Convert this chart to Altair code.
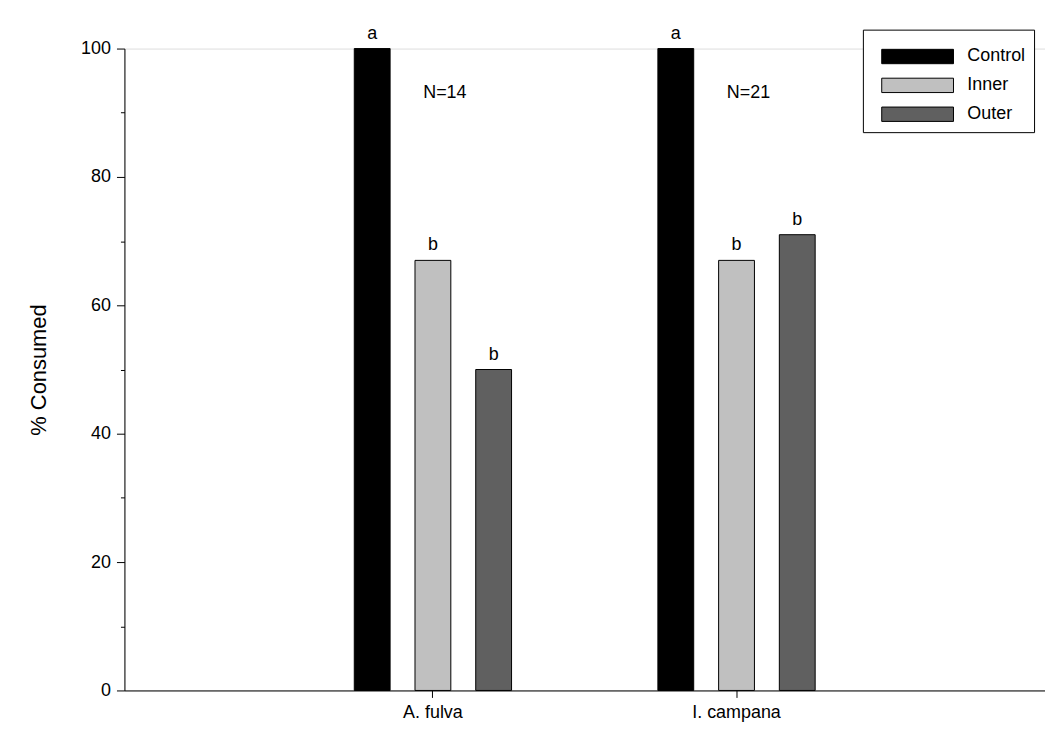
import altair as alt
import pandas as pd

species = ["A. fulva", "I. campana"]
treatments = ["Control", "Inner", "Outer"]
consumed = [[100, 67, 50], [100, 67, 71]]
letters = [["a", "b", "b"], ["a", "b", "b"]]
n_labels = ["N=14", "N=21"]

rows = []
for i, sp in enumerate(species):
    for j, tr in enumerate(treatments):
        rows.append({"Species": sp, "Treatment": tr, "Consumed": consumed[i][j], "Letter": letters[i][j]})
df = pd.DataFrame(rows)
ndf = pd.DataFrame({"Species": species, "Treatment": ["Inner", "Inner"], "N": n_labels, "y": [93, 93]})

font = "Liberation Sans"
xscale = alt.Scale(domain=species, paddingInner=0, paddingOuter=0.516)
xaxis = alt.Axis(title=None, labelAngle=0, labelFontSize=18, labelFont=font, tickSize=7,
                 labelColor="black", tickColor="black", domainColor="black", labelPadding=6, grid=False)
# blank slots either side of each group to set bar spacing
xo = alt.XOffset("Treatment:N", scale=alt.Scale(domain=["_l"] + treatments + ["_r"],
                                                paddingInner=0.41, paddingOuter=0.205))
yscale = alt.Scale(domain=[0, 100], nice=False)
yaxis = alt.Axis(title="% Consumed", titleFontSize=22, titleFont=font, titleFontWeight="normal",
                 titleColor="black", titlePadding=30, values=[0, 20, 40, 60, 80, 100],
                 labelFontSize=18, labelFont=font, labelColor="black", tickSize=8,
                 tickColor="black", domainColor="black", grid=False, labelPadding=6)

bars = alt.Chart(df).mark_bar(stroke="black", strokeWidth=1).encode(
    x=alt.X("Species:N", scale=xscale, axis=xaxis), xOffset=xo,
    y=alt.Y("Consumed:Q", scale=yscale, axis=yaxis),
    color=alt.Color("Treatment:N", scale=alt.Scale(domain=treatments, range=["#000000", "#c0c0c0", "#606060"]),
                    legend=alt.Legend(title=None, orient="none", legendX=742, legendY=-19,
                                      symbolType="M-2,-0.4H2V0.4H-2Z", symbolSize=1300,
                                      symbolStrokeColor="black", symbolStrokeWidth=1,
                                      labelFontSize=18, labelFont=font, labelColor="black",
                                      fillColor="white", strokeColor="black", padding=8,
                                      rowPadding=0, symbolOffset=28, labelOffset=31)),
)

text = alt.Chart(df).mark_text(dy=-15, fontSize=18, font=font, color="black").encode(
    x=alt.X("Species:N", scale=xscale, axis=xaxis),
    xOffset=xo, y=alt.Y("Consumed:Q", scale=yscale, axis=yaxis), text="Letter:N")

ntext = alt.Chart(ndf).mark_text(fontSize=18, font=font, color="black", dx=12).encode(
    x=alt.X("Species:N", scale=xscale, axis=xaxis),
    xOffset=xo, y=alt.Y("y:Q", scale=yscale, axis=yaxis), text="N:N")

minor = alt.Chart(pd.DataFrame({"v": [0]})).mark_text(text="").encode(
    y=alt.Y("v:Q", scale=yscale, axis=alt.Axis(title=None, orient="left", values=[10, 30, 50, 70, 90],
                                                labels=False, tickSize=4, tickColor="black",
                                                domain=False, grid=False))
)

main = alt.layer(bars, text, ntext)
chart = alt.layer(main, minor).resolve_axis(y="independent").properties(
    width=925, height=645, autosize=alt.AutoSizeParams(type="none"),
    padding={"left": 117, "top": 39, "right": 0, "bottom": 40}
).configure_view(stroke="transparent", strokeWidth=0).configure_axis(grid=False).configure(background="white")

chart.save("out.html", embed_options={"renderer": "svg", "actions": False})
